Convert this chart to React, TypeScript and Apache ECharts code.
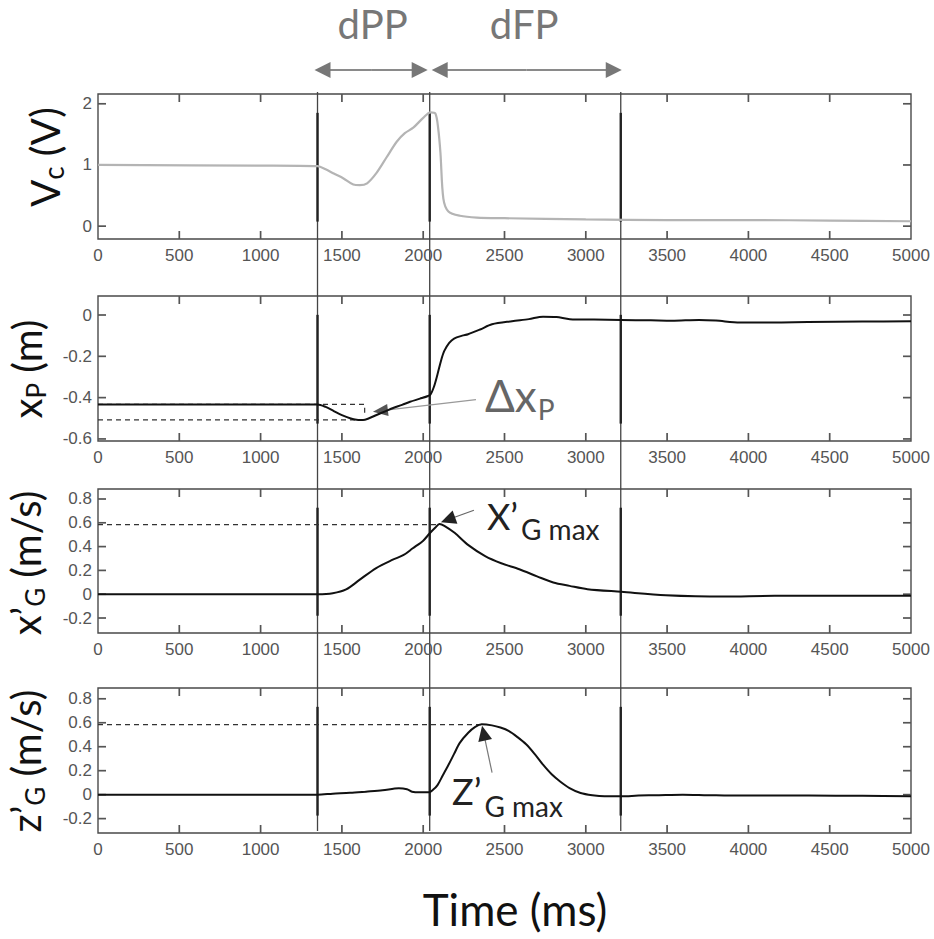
import React, { useEffect, useRef } from "react";
import * as echarts from "echarts";

// ---------- data ----------
const xMin = 0;
const xMax = 5000;
const xStep = 500;
const eventTimes = [1350, 2040, 3215];
const phaseLabels = ["dPP", "dFP"];

const vcT = [0, 1000, 1350, 1400, 1450, 1510, 1570, 1610, 1655, 1713, 1776, 1837, 1887, 1939, 2000, 2045, 2075, 2092, 2106, 2124, 2155, 2226, 2330, 2500, 3000, 3500, 4000, 4500, 5000];
const vcV = [1.0, 0.99, 0.98, 0.93, 0.86, 0.78, 0.68, 0.67, 0.7, 0.87, 1.13, 1.38, 1.52, 1.61, 1.77, 1.86, 1.84, 1.6, 1.2, 0.45, 0.24, 0.17, 0.14, 0.13, 0.11, 0.1, 0.1, 0.09, 0.08];

const xpT = [0, 500, 1000, 1350, 1400, 1450, 1500, 1550, 1600, 1630, 1660, 1713, 1770, 1815, 1870, 1919, 1980, 2030, 2045, 2065, 2087, 2110, 2129, 2160, 2190, 2240, 2276, 2350, 2423, 2546, 2650, 2737, 2820, 2902, 3050, 3216, 3400, 3530, 3696, 3800, 3948, 4150, 4366, 4700, 5000];
const xpV = [-0.433, -0.433, -0.433, -0.433, -0.445, -0.465, -0.485, -0.5, -0.508, -0.508, -0.502, -0.484, -0.465, -0.45, -0.435, -0.42, -0.405, -0.392, -0.385, -0.35, -0.29, -0.22, -0.175, -0.135, -0.114, -0.1, -0.093, -0.07, -0.045, -0.03, -0.02, -0.008, -0.01, -0.02, -0.022, -0.024, -0.026, -0.028, -0.024, -0.027, -0.036, -0.036, -0.034, -0.032, -0.03];

const xgT = [0, 500, 1000, 1350, 1444, 1526, 1608, 1711, 1813, 1880, 1936, 2000, 2039, 2075, 2100, 2130, 2193, 2280, 2381, 2480, 2591, 2700, 2800, 2900, 3010, 3219, 3492, 3848, 4162, 4581, 5000];
const xgV = [0, 0, 0, 0, 0.008, 0.04, 0.12, 0.22, 0.29, 0.33, 0.386, 0.45, 0.51, 0.56, 0.59, 0.575, 0.516, 0.41, 0.32, 0.26, 0.21, 0.15, 0.098, 0.07, 0.042, 0.02, -0.008, -0.02, -0.014, -0.014, -0.014];

const zgT = [0, 500, 1000, 1350, 1444, 1550, 1648, 1750, 1850, 1900, 1931, 1980, 2036, 2060, 2088, 2120, 2151, 2190, 2224, 2277, 2320, 2360, 2423, 2475, 2528, 2580, 2633, 2685, 2737, 2790, 2842, 2900, 2968, 3040, 3115, 3219, 3324, 3450, 3596, 3750, 3953, 4372, 4700, 5000];
const zgV = [0, 0, 0, 0, 0.008, 0.015, 0.025, 0.036, 0.053, 0.045, 0.025, 0.02, 0.02, 0.04, 0.08, 0.16, 0.237, 0.34, 0.43, 0.516, 0.565, 0.587, 0.578, 0.56, 0.53, 0.48, 0.42, 0.34, 0.25, 0.17, 0.11, 0.055, 0.014, -0.005, -0.014, -0.014, -0.008, -0.004, 0, -0.004, -0.008, -0.008, -0.01, -0.014];

// reference (dashed) lines
const xpBaseline = -0.433;
const xpMinimum = -0.508;
const xpStepT = 1640;
const xpMinT = 1620;
const xgMax = 0.585;
const xgMaxT = 2095;
const zgMax = 0.585;
const zgMaxT = 2360;

// annotation anchors (data coords)
const dxpTip = [1691, -0.468];
const xgTip = [2109, 0.605];
const zgTip = [2362, 0.575];

const yMins = [-0.21, -0.61, -0.326, -0.32];
const yMaxs = [2.16, 0.092, 0.884, 0.89];
const xTicks = [500, 1000, 1500, 2000, 2500, 3000, 3500, 4000, 4500];
const yTicks = [
  [0, 1, 2],
  [-0.6, -0.4, -0.2, 0],
  [-0.2, 0, 0.2, 0.4, 0.6, 0.8],
  [-0.2, 0, 0.2, 0.4, 0.6, 0.8],
];

// ---------- layout ----------
const W = 934;
const H = 939;
const gridLeft = 98;
const gridWidth = 813;
const panelTops = [94, 296, 489, 688];
const panelHeights = [145, 145, 144, 145];
const AXIS = "#4a4a4a";
const TICKLEN = 8;

const LATO = "Lato, 'Open Sans', sans-serif";
const TICKFONT = "'Liberation Sans', Arial, sans-serif";

let measureCtx: CanvasRenderingContext2D | null = null;
function measure(text: string, size: number): number {
  if (!measureCtx) measureCtx = document.createElement("canvas").getContext("2d");
  measureCtx!.font = `${size}px Lato`;
  return measureCtx!.measureText(text).width;
}

type Part = { text: string; size: number; dy: number; gap?: number };

function composite(parts: Part[], x: number, y: number, color: string, rotation: number, centered: boolean) {
  const widths = parts.map((p) => measure(p.text, p.size));
  const total = widths.reduce((a, b, i) => a + b + (parts[i].gap || 0), 0);
  let cur = centered ? -total / 2 : 0;
  const children: any[] = [];
  parts.forEach((p, i) => {
    cur += p.gap || 0;
    children.push({
      type: "text",
      x: cur,
      y: p.dy,
      style: {
        text: p.text,
        fontSize: p.size,
        fontFamily: LATO,
        fill: color,
        align: "left",
        verticalAlign: "middle",
      },
    });
    cur += widths[i];
  });
  return { type: "group", x, y, rotation, children, silent: true };
}

function arrow(tail: number[], tip: number[], headLen: number, headW: number, lineColor: string, headColor: string, lw: number) {
  const dx = tip[0] - tail[0];
  const dy = tip[1] - tail[1];
  const L = Math.hypot(dx, dy);
  const ux = dx / L;
  const uy = dy / L;
  const bx = tip[0] - ux * headLen;
  const by = tip[1] - uy * headLen;
  const px = -uy;
  const py = ux;
  return [
    { type: "line", silent: true, shape: { x1: tail[0], y1: tail[1], x2: bx + ux * 2, y2: by + uy * 2 }, style: { stroke: lineColor, lineWidth: lw } },
    {
      type: "polygon",
      silent: true,
      shape: { points: [[tip[0], tip[1]], [bx + px * headW, by + py * headW], [bx - px * headW, by - py * headW]] },
      style: { fill: headColor },
    },
  ];
}

function fmt(v: number) {
  return String(Math.round(v * 10) / 10);
}

function pairs(t: number[], v: number[]) {
  return t.map((x, i) => [x, v[i]]);
}

export default function App() {
  const ref = useRef<HTMLDivElement>(null);

  useEffect(() => {
    const chart = echarts.init(ref.current!, null, { renderer: "svg", width: W, height: H });

    const grids = panelTops.map((top, i) => ({
      left: gridLeft,
      width: gridWidth,
      top,
      height: panelHeights[i],
      show: false,
    }));

    const xAxes: any[] = [];
    const yAxes: any[] = [];
    panelTops.forEach((_, i) => {
      xAxes.push({
        type: "value",
        gridIndex: i,
        position: "bottom",
        min: xMin,
        max: xMax,
        interval: xStep,
        axisLine: { show: false, onZero: false },
        axisTick: { show: false },
        axisLabel: {
          show: true,
          formatter: (v: number) => String(v),
          fontSize: 17,
          color: "#555",
          fontFamily: TICKFONT,
          margin: 8,
          showMinLabel: true,
          showMaxLabel: true,
        },
        splitLine: { show: false },
      });
    });
    panelTops.forEach((_, i) => {
      yAxes.push({
        type: "value",
        gridIndex: i,
        position: "left",
        min: yMins[i],
        max: yMaxs[i],
        axisLine: { show: false, onZero: false },
        axisTick: { show: false },
        axisLabel: {
          show: true,
          customValues: yTicks[i],
          formatter: (v: number) => fmt(v),
          fontSize: 17,
          color: "#555",
          fontFamily: TICKFONT,
          margin: 6,
        },
        splitLine: { show: false },
      });
    });

    const line = (i: number, data: number[][], color: string, width: number) => ({
      type: "line",
      xAxisIndex: i,
      yAxisIndex: i,
      data,
      showSymbol: false,
      smooth: 0.3,
      silent: true,
      lineStyle: { color, width },
      z: 3,
    });
    const dashed = (i: number, data: number[][]) => ({
      type: "line",
      xAxisIndex: i,
      yAxisIndex: i,
      data,
      showSymbol: false,
      silent: true,
      lineStyle: { color: "#333", width: 1.2, type: [5, 4] },
      z: 2,
    });

    chart.setOption({
      animation: false,
      backgroundColor: "#ffffff",
      grid: grids,
      xAxis: xAxes,
      yAxis: yAxes,
      series: [
        line(0, pairs(vcT, vcV), "#b4b4b4", 2.2),
        line(1, pairs(xpT, xpV), "#111", 2),
        line(2, pairs(xgT, xgV), "#111", 2),
        line(3, pairs(zgT, zgV), "#111", 2),
        dashed(1, [[xMin, xpBaseline], [xpStepT, xpBaseline], [xpStepT, xpMinimum + 0.015]]),
        dashed(1, [[xMin, xpMinimum], [xpMinT, xpMinimum]]),
        dashed(2, [[xMin, xgMax], [xgMaxT, xgMax]]),
        dashed(3, [[xMin, zgMax], [zgMaxT, zgMax]]),
      ],
    });

    const px = (t: number) => chart.convertToPixel({ xAxisIndex: 0 }, t) as number;
    const pyAt = (i: number, v: number) => chart.convertToPixel({ yAxisIndex: i }, v) as number;
    const pt = (i: number, d: number[]) => chart.convertToPixel({ xAxisIndex: i, yAxisIndex: i }, d) as number[];

    const g: any[] = [];

    // panel frames
    panelTops.forEach((top, i) => {
      g.push({
        type: "rect",
        silent: true,
        shape: { x: gridLeft, y: top, width: gridWidth, height: panelHeights[i] },
        style: { fill: "none", stroke: AXIS, lineWidth: 1.4 },
      });
    });

    // inward tick marks on all four sides of each panel (positions from the axes' scales)
    const tickLine = (x1: number, y1: number, x2: number, y2: number) => ({
      type: "line",
      silent: true,
      shape: { x1, y1, x2, y2 },
      style: { stroke: "#555", lineWidth: 1.7 },
    });
    panelTops.forEach((top, i) => {
      const bottom = top + panelHeights[i];
      const left = gridLeft;
      const right = gridLeft + gridWidth;
      xTicks.forEach((t) => {
        const x = px(t);
        g.push(tickLine(x, bottom, x, bottom - TICKLEN));
        g.push(tickLine(x, top, x, top + TICKLEN));
      });
      yTicks[i].forEach((v) => {
        const y = pyAt(i, v);
        g.push(tickLine(left, y, left + TICKLEN, y));
        g.push(tickLine(right, y, right - TICKLEN, y));
      });
    });

    // event lines
    const evX = eventTimes.map(px);
    evX.forEach((x) => {
      g.push({ type: "line", silent: true, shape: { x1: x, y1: 92, x2: x, y2: 831 }, style: { stroke: "#444", lineWidth: 1.3 } });
      panelTops.forEach((top, i) => {
        const h = panelHeights[i];
        g.push({
          type: "line",
          silent: true,
          shape: { x1: x, y1: top + h * 0.13, x2: x, y2: top + h * 0.88 },
          style: { stroke: "#222", lineWidth: 2.4 },
        });
      });
    });

    // phase arrows at the top
    const ay = 70;
    const seg = [
      [evX[0] - 3, evX[1] - 2],
      [evX[1] + 2, evX[2] + 1],
    ];
    seg.forEach(([a, b], k) => {
      const mid = (a + b) / 2;
      g.push(...arrow([mid, ay], [a, ay], 16, 8, "#8a8a8a", "#777", 2));
      g.push(...arrow([mid, ay], [b, ay], 16, 8, "#8a8a8a", "#777", 2));
      g.push({
        type: "text",
        silent: true,
        x: (evX[k] + evX[k + 1]) / 2 - 1,
        y: 24,
        style: { text: phaseLabels[k], fontSize: 40, fontFamily: LATO, fill: "#777", align: "center", verticalAlign: "middle" },
      });
    });

    // annotation: delta x_P
    const t1 = pt(1, dxpTip);
    g.push(...arrow([t1[0] + 103, t1[1] - 12], t1, 15, 6, "#999", "#555", 1.2));
    g.push(composite([{ text: "Δx", size: 44, dy: 0 }, { text: "P", size: 28, dy: 14, gap: 1 }], t1[0] + 112, t1[1] - 17, "#666", 0, false));

    // annotation: x'G max
    const t2 = pt(2, xgTip);
    g.push(...arrow([t2[0] + 33, t2[1] - 12], t2, 15, 7, "#666", "#222", 1.2));
    g.push(composite([{ text: "X’", size: 36, dy: 0 }, { text: "G max", size: 28, dy: 13, gap: 3 }], t2[0] + 46, t2[1] - 6, "#222", 0, false));

    // annotation: z'G max
    const t3 = pt(3, zgTip);
    g.push(...arrow([t3[0] + 10, t3[1] + 47], t3, 15, 7, "#777", "#222", 1.2));
    g.push(composite([{ text: "Z’", size: 36, dy: 0 }, { text: "G max", size: 28, dy: 15, gap: 3 }], t3[0] - 30, t3[1] + 65, "#222", 0, false));

    // y-axis titles (rotated)
    const rot = Math.PI / 2;
    g.push(composite([{ text: "V", size: 40, dy: 0 }, { text: "c", size: 28, dy: 8 }, { text: " (V)", size: 40, dy: 0 }], 45, 157, "#111", rot, true));
    g.push(composite([{ text: "x", size: 40, dy: 0 }, { text: "P", size: 26, dy: 9 }, { text: " (m)", size: 40, dy: 0 }], 27, 369, "#111", rot, true));
    g.push(composite([{ text: "x’", size: 40, dy: 0 }, { text: "G", size: 26, dy: 9 }, { text: " (m/s)", size: 40, dy: 0 }], 26, 563, "#111", rot, true));
    g.push(composite([{ text: "z’", size: 40, dy: 0 }, { text: "G", size: 26, dy: 9 }, { text: " (m/s)", size: 40, dy: 0 }], 26, 761, "#111", rot, true));

    // x-axis title
    g.push({
      type: "text",
      silent: true,
      x: 515,
      y: 909,
      style: { text: "Time (ms)", fontSize: 44, fontFamily: LATO, fill: "#111", align: "center", verticalAlign: "middle" },
    });

    chart.setOption({ graphic: g });

    return () => chart.dispose();
  }, []);

  return (
    <div
      ref={ref}
      style={{ position: "fixed", left: 0, top: 0, width: W, height: H, background: "#fff" }}
    />
  );
}
